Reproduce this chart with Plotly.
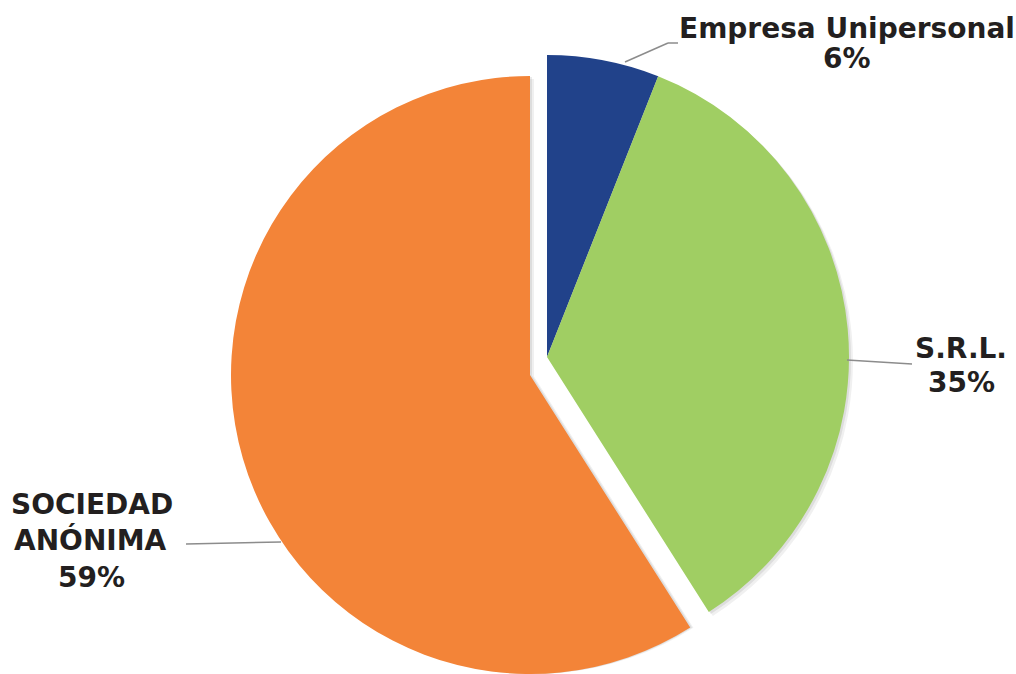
import plotly.graph_objects as go

labels = ["Empresa Unipersonal", "S.R.L.", "SOCIEDAD ANÓNIMA"]
values = [6, 35, 59]
pct_text = ["6%", "35%", "59%"]
colors = ["#21428A", "#A0CE63", "#F38438"]

W, H = 1016, 674
CLEAR = "rgba(0,0,0,0)"


def dom(cx, cy, r):
    return dict(x=[(cx - r) / W, (cx + r) / W],
                y=[max(0, 1 - (cy + r) / H), min(1, 1 - (cy - r) / H)])


def pie(colors_, domain):
    return go.Pie(
        labels=labels, values=values, sort=False, direction="clockwise",
        rotation=0, textinfo="none", hoverinfo="label+percent",
        marker=dict(colors=colors_, line=dict(width=0)),
        domain=domain, showlegend=False,
    )


main_c = (547, 357, 302)
pull_c = (530, 375, 299)

fig = go.Figure()
# soft shadows
for off, a in [(4, 0.06), (2, 0.08)]:
    sh = f"rgba(0,0,0,{a})"
    fig.add_trace(pie([sh, sh, CLEAR], dom(main_c[0] + off, main_c[1] + off, main_c[2])))
    fig.add_trace(pie([CLEAR, CLEAR, sh], dom(pull_c[0] + off, pull_c[1] + off - 1, pull_c[2])))
# main slices
fig.add_trace(pie([colors[0], colors[1], CLEAR], dom(*main_c)))
# pulled slice
fig.add_trace(pie([CLEAR, CLEAR, colors[2]], dom(*pull_c)))

FONT = dict(family="DejaVu Sans", size=28, color="#231F20")


def px(x, y):
    return x / W, 1 - y / H


# each text line: (text, center x px, cap-center y px)
label_lines = [
    (labels[0], 847, 28.5), (pct_text[0], 847, 58.5),
    (labels[1], 961, 349), (pct_text[1], 961, 382.5),
    ("SOCIEDAD", 92, 504.5), ("ANÓNIMA", 90, 540), (pct_text[2], 91, 577),
]
for t, x, y in label_lines:
    ax_, ay_ = px(x, y)
    fig.add_annotation(x=ax_, y=ay_, xref="paper", yref="paper", text=f"<b>{t}</b>",
                       showarrow=False, font=FONT, align="center",
                       xanchor="center", yanchor="middle")

leaders = [
    [(625, 62), (668, 43), (678, 43)],
    [(847, 360), (912, 364)],
    [(186, 544), (281, 542)],
]
for pts in leaders:
    for (x0, y0), (x1, y1) in zip(pts[:-1], pts[1:]):
        a0, b0 = px(x0, y0)
        a1, b1 = px(x1, y1)
        fig.add_shape(type="line", xref="paper", yref="paper",
                      x0=a0, y0=b0, x1=a1, y1=b1,
                      line=dict(color="#8C8C8C", width=1.5))

fig.update_layout(width=W, height=H, margin=dict(l=0, r=0, t=0, b=0),
                  paper_bgcolor="white", plot_bgcolor="white")
fig.write_html("out.html", config={"displayModeBar": False},
               post_script="document.body.style.margin='0px';")
